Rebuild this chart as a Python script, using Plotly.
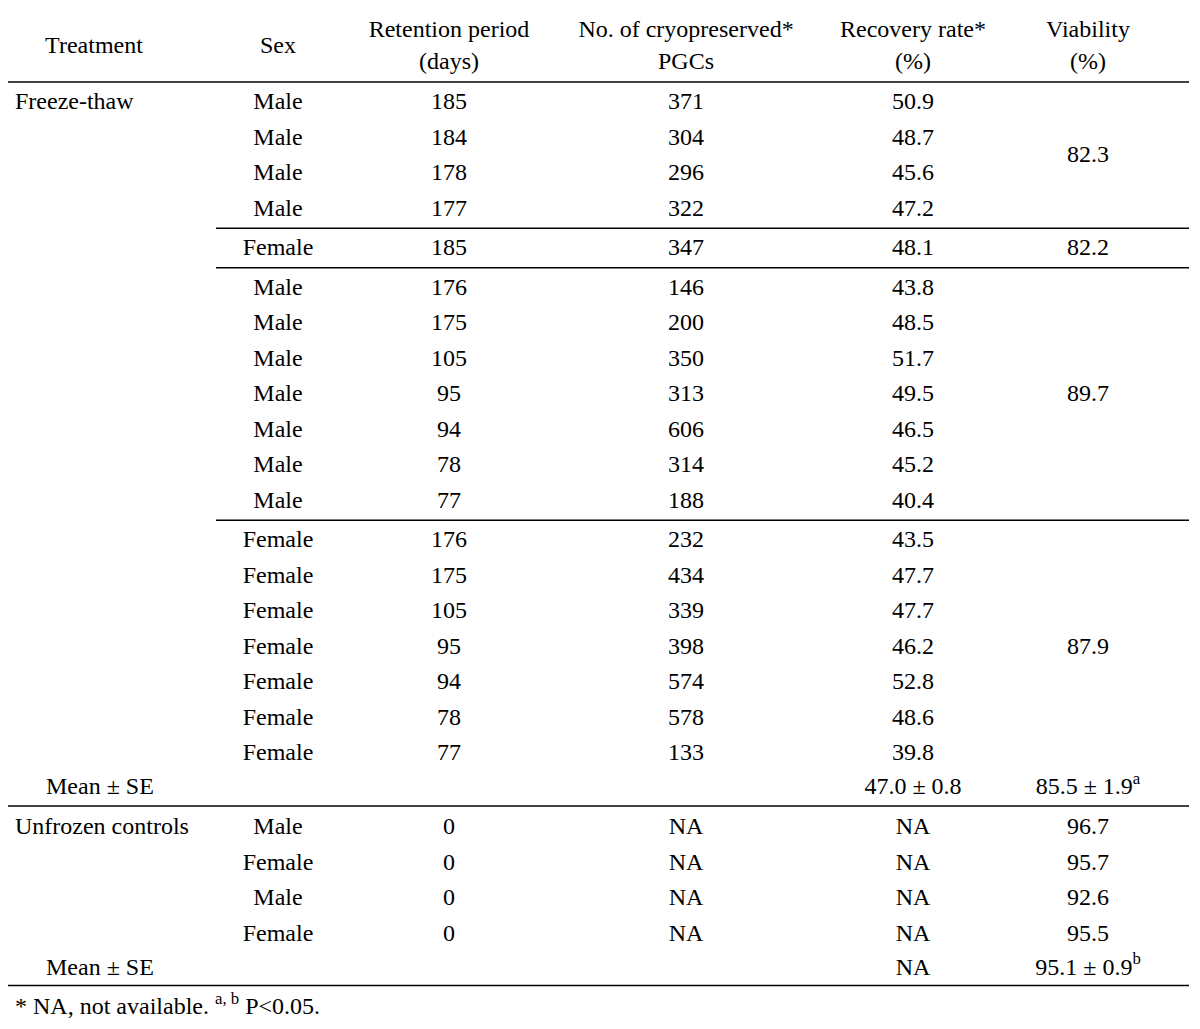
import plotly.graph_objects as go

# ---------------- data ----------------
headers = ["Treatment", "Sex", "Retention period<br>(days)",
           "No. of cryopreserved*<br>PGCs", "Recovery rate*<br>(%)", "Viability<br>(%)"]

ft_sex = ["Male", "Male", "Male", "Male", "Female",
          "Male", "Male", "Male", "Male", "Male", "Male", "Male",
          "Female", "Female", "Female", "Female", "Female", "Female", "Female"]
ft_retention = [185, 184, 178, 177, 185, 176, 175, 105, 95, 94, 78, 77,
                176, 175, 105, 95, 94, 78, 77]
ft_pgcs = [371, 304, 296, 322, 347, 146, 200, 350, 313, 606, 314, 188,
           232, 434, 339, 398, 574, 578, 133]
ft_recovery = [50.9, 48.7, 45.6, 47.2, 48.1, 43.8, 48.5, 51.7, 49.5, 46.5, 45.2, 40.4,
               43.5, 47.7, 47.7, 46.2, 52.8, 48.6, 39.8]
ft_viability_groups = [82.3, 82.2, 89.7, 87.9]
ft_group_sizes = [4, 1, 7, 7]
ft_mean_recovery = "47.0 ± 0.8"
ft_mean_viability = "85.5 ± 1.9<sup>a</sup>"

uc_sex = ["Male", "Female", "Male", "Female"]
uc_retention = [0, 0, 0, 0]
uc_pgcs = ["NA", "NA", "NA", "NA"]
uc_recovery = ["NA", "NA", "NA", "NA"]
uc_viability = [96.7, 95.7, 92.6, 95.5]
uc_mean_recovery = "NA"
uc_mean_viability = "95.1 ± 0.9<sup>b</sup>"

footnote = "* NA, not available. <sup>a, b</sup> P&lt;0.05."

# ---------------- layout constants ----------------
PAGE_W, PAGE_H = 1200, 1029
OFF = 8  # default page body margin
W, H = PAGE_W - 2 * OFF, PAGE_H - 2 * OFF
FONT = "Liberation Serif, Times New Roman, serif"
FS = 24
col_x = [94, 278, 449, 686, 913, 1088]
left_x = 15
mean_x = 46
row_h = 35.5
sep_gap = 4
first_row_y = 101
TXT_DY = 2  # small vertical nudge of text baseline

# row y positions for freeze-thaw rows
ft_y = []
y = first_row_y
for g, n in enumerate(ft_group_sizes):
    if g > 0:
        y += sep_gap
    for k in range(n):
        ft_y.append(y)
        y += row_h
ft_mean_y = ft_y[-1] + 34
uc_y = [ft_mean_y + 40 + row_h * i for i in range(len(uc_sex))]
uc_mean_y = uc_y[-1] + 34

# group boundaries
group_bounds = []
idx = 0
for n in ft_group_sizes:
    group_bounds.append((idx, idx + n - 1))
    idx += n

fig = go.Figure()


def add_text(xs, ys, texts, pos="middle center", dy=TXT_DY):
    fig.add_trace(go.Scatter(
        x=xs, y=[v + dy for v in ys], text=texts, mode="text", textposition=pos,
        textfont=dict(family=FONT, size=FS, color="black"),
        cliponaxis=False, hoverinfo="skip", showlegend=False))


# headers
add_text(col_x, [45] * len(headers), headers)

# freeze-thaw
add_text([left_x], [ft_y[0]], ["Freeze-thaw"], "middle right")
add_text([col_x[1]] * len(ft_sex), ft_y, ft_sex)
add_text([col_x[2]] * len(ft_retention), ft_y, [str(v) for v in ft_retention])
add_text([col_x[3]] * len(ft_pgcs), ft_y, [str(v) for v in ft_pgcs])
add_text([col_x[4]] * len(ft_recovery), ft_y, [f"{v:.1f}" for v in ft_recovery])
vy = [(ft_y[a] + ft_y[b]) / 2 for a, b in group_bounds]
add_text([col_x[5]] * len(ft_viability_groups), vy, [f"{v:.1f}" for v in ft_viability_groups])
add_text([mean_x], [ft_mean_y], ["Mean ± SE"], "middle right")
add_text([col_x[4], col_x[5]], [ft_mean_y, ft_mean_y], [ft_mean_recovery, ft_mean_viability])

# unfrozen controls
add_text([left_x], [uc_y[0]], ["Unfrozen controls"], "middle right")
add_text([col_x[1]] * len(uc_sex), uc_y, uc_sex)
add_text([col_x[2]] * len(uc_retention), uc_y, [str(v) for v in uc_retention])
add_text([col_x[3]] * len(uc_pgcs), uc_y, uc_pgcs)
add_text([col_x[4]] * len(uc_recovery), uc_y, uc_recovery)
add_text([col_x[5]] * len(uc_viability), uc_y, [f"{v:.1f}" for v in uc_viability])
add_text([mean_x], [uc_mean_y], ["Mean ± SE"], "middle right")
add_text([col_x[4], col_x[5]], [uc_mean_y, uc_mean_y], [uc_mean_recovery, uc_mean_viability])

# footnote (kept inside the figure's bottom edge)
add_text([left_x], [1008], [footnote], "middle right", dy=0)

# rules
x_l, x_r, x_g = 5, 1189, 216
line = dict(color="black", width=1.6)
hlines = [(x_l, 7), (x_l, 82)]
for a, b in group_bounds[:-1]:
    hlines.append((x_g, (ft_y[b] + ft_y[b + 1]) / 2 + 1))
hlines.append((x_l, ft_mean_y + 20))
hlines.append((x_l, uc_mean_y + 19))
for x0, yy in hlines:
    fig.add_shape(type="line", x0=x0, x1=x_r, y0=yy, y1=yy, xref="x", yref="y", line=line)

fig.update_layout(
    width=W, height=H,
    margin=dict(l=0, r=0, t=0, b=0),
    paper_bgcolor="white", plot_bgcolor="white",
    xaxis=dict(range=[OFF, OFF + W], visible=False, fixedrange=True),
    yaxis=dict(range=[OFF + H, OFF], visible=False, fixedrange=True),
)

fig.write_html("out.html", config={"displayModeBar": False})
